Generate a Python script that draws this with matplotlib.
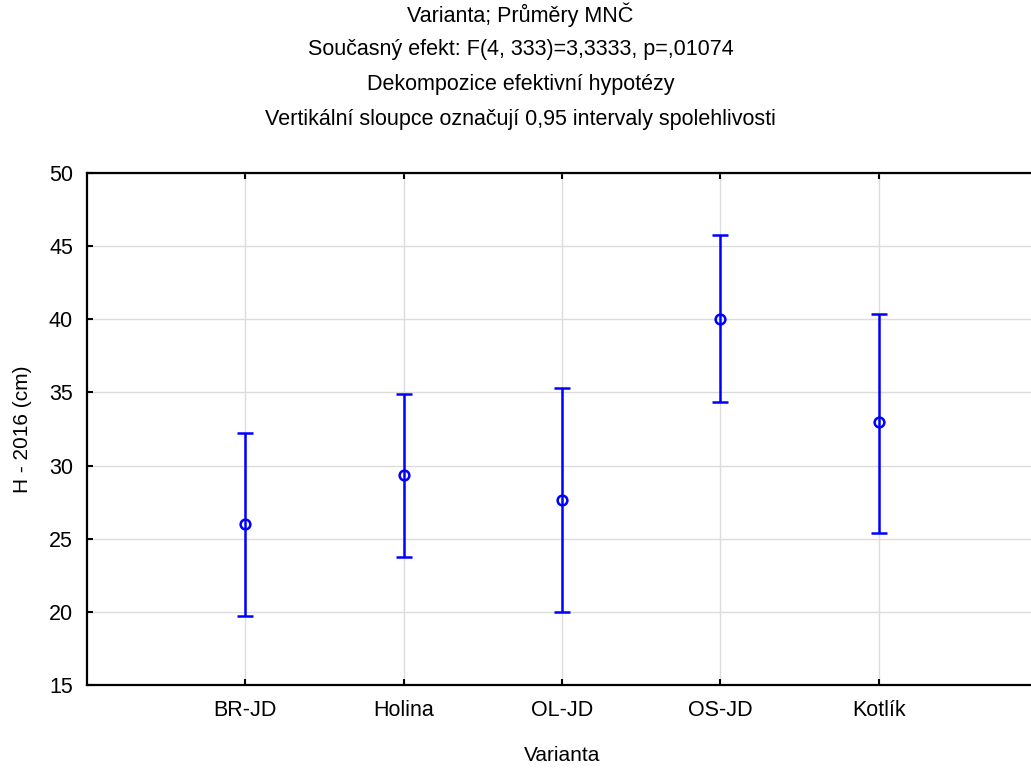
import matplotlib
matplotlib.use("Agg")
import matplotlib.pyplot as plt
import numpy as np

plt.rcParams['font.family'] = ['Liberation Sans', 'DejaVu Sans']

# data
varianty = ['BR-JD', 'Holina', 'OL-JD', 'OS-JD', 'Kotlík']
prumery = [26.0, 29.35, 27.65, 40.0, 32.95]
dolni = [19.75, 23.75, 20.0, 34.35, 25.4]
horni = [32.25, 34.9, 35.3, 45.75, 40.35]
y_ticks = [15, 20, 25, 30, 35, 40, 45, 50]

titulky = [
    'Varianta; Průměry MNČ',
    'Současný efekt: F(4, 333)=3,3333, p=,01074',
    'Dekompozice efektivní hypotézy',
    'Vertikální sloupce označují 0,95 intervaly spolehlivosti',
]

x = np.arange(1, len(varianty) + 1)
prumery = np.array(prumery)
err = [prumery - np.array(dolni), np.array(horni) - prumery]

fig = plt.figure(figsize=(10.31, 7.71), dpi=100)
ax = fig.add_axes([87 / 1031, 1 - 685 / 771, (1037 - 87) / 1031, (685 - 173) / 771])

ax.errorbar(x, prumery, yerr=err, fmt='o', color='#0000ff', ecolor='#0000ff',
            elinewidth=1.8, capsize=6, capthick=1.8, markersize=7,
            markerfacecolor='none', markeredgewidth=1.8, zorder=3)

ax.set_xlim(0, 6)
ax.set_ylim(15, 50)
ax.set_xticks(x)
ax.set_xticklabels(varianty)
ax.set_yticks(y_ticks)
ax.grid(True, color='#dcdcdc', linewidth=1)
ax.set_axisbelow(True)

for s in ['left', 'top', 'bottom']:
    ax.spines[s].set_linewidth(1.6)
ax.spines['right'].set_visible(False)
ax.tick_params(axis='both', direction='in', length=4, width=1.5, labelsize=15.5)
ax.tick_params(axis='x', top=True, pad=11)
ax.tick_params(axis='y', pad=10)

ax.set_xlabel('Varianta', fontsize=15, labelpad=18)
ax.set_ylabel('H - 2016 (cm)', fontsize=15, labelpad=12)

for i, t in enumerate(titulky):
    fig.text(0.505, 1 - (15 + 34.7 * i) / 771, t, ha='center', va='center', fontsize=15.5)

fig.savefig('out.png', dpi=100)
